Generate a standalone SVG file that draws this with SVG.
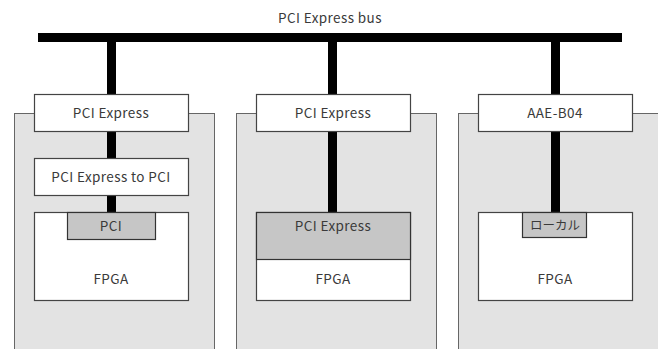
<svg xmlns="http://www.w3.org/2000/svg" width="658" height="349" viewBox="0 0 658 349">
<style>
.board{fill:#e3e3e3;stroke:#666;stroke-width:1}
.box{fill:#fff;stroke:#444;stroke-width:1.2}
.chip{fill:#c6c6c6;stroke:#333;stroke-width:1.2}
.wire{fill:#000}
text{font-family:"Noto Sans CJK JP","Liberation Sans",sans-serif;font-size:13.5px;letter-spacing:0.4px;fill:#3a3a3a;text-anchor:middle}
text.jp{font-size:12.5px;letter-spacing:0}
</style>
<rect width="658" height="349" fill="#fff"/>
<g id="boards">
<rect class="board" x="14.5" y="113.5" width="200" height="240"/>
<rect class="board" x="236.5" y="113.5" width="200" height="240"/>
<rect class="board" x="458.5" y="113.5" width="205" height="240"/>
</g>
<g id="connectors">
<rect class="wire" x="38" y="33" width="584" height="9"/>
<rect class="wire" x="107" y="42" width="9" height="53"/>
<rect class="wire" x="328" y="42" width="9" height="53"/>
<rect class="wire" x="551" y="42" width="9" height="53"/>
<rect class="wire" x="107" y="132" width="9" height="27"/>
<rect class="wire" x="107" y="195" width="9" height="18"/>
<rect class="wire" x="328" y="132" width="9" height="81"/>
<rect class="wire" x="551" y="132" width="9" height="81"/>
</g>
<g id="bus-label"><text x="330" y="23">PCI Express bus</text></g>
<g id="left-pcie"><rect class="box" x="34.5" y="94.5" width="154" height="37"/><text x="111" y="118">PCI Express</text></g>
<g id="left-bridge"><rect class="box" x="34.5" y="158.5" width="154" height="37"/><text x="111" y="182">PCI Express to PCI</text></g>
<g id="left-fpga"><rect class="box" x="34.5" y="212.5" width="154" height="88"/><text x="111" y="284">FPGA</text></g>
<g id="left-pci"><rect class="chip" x="67.5" y="212.5" width="88" height="27"/><text x="111" y="231">PCI</text></g>
<g id="mid-pcie"><rect class="box" x="256.5" y="94.5" width="154" height="37"/><text x="333" y="118">PCI Express</text></g>
<g id="mid-fpga"><rect class="box" x="256.5" y="212.5" width="154" height="88"/><text x="333" y="284">FPGA</text></g>
<g id="mid-pcie-core"><rect class="chip" x="256.5" y="212.5" width="154" height="47"/><text x="333" y="231">PCI Express</text></g>
<g id="right-aae"><rect class="box" x="478.5" y="94.5" width="154" height="37"/><text x="555" y="118">AAE-B04</text></g>
<g id="right-fpga"><rect class="box" x="478.5" y="212.5" width="154" height="88"/><text x="555" y="284">FPGA</text></g>
<g id="right-local"><rect class="chip" x="522.5" y="212.5" width="64" height="25"/><text class="jp" x="555" y="230">ローカル</text></g>
</svg>
